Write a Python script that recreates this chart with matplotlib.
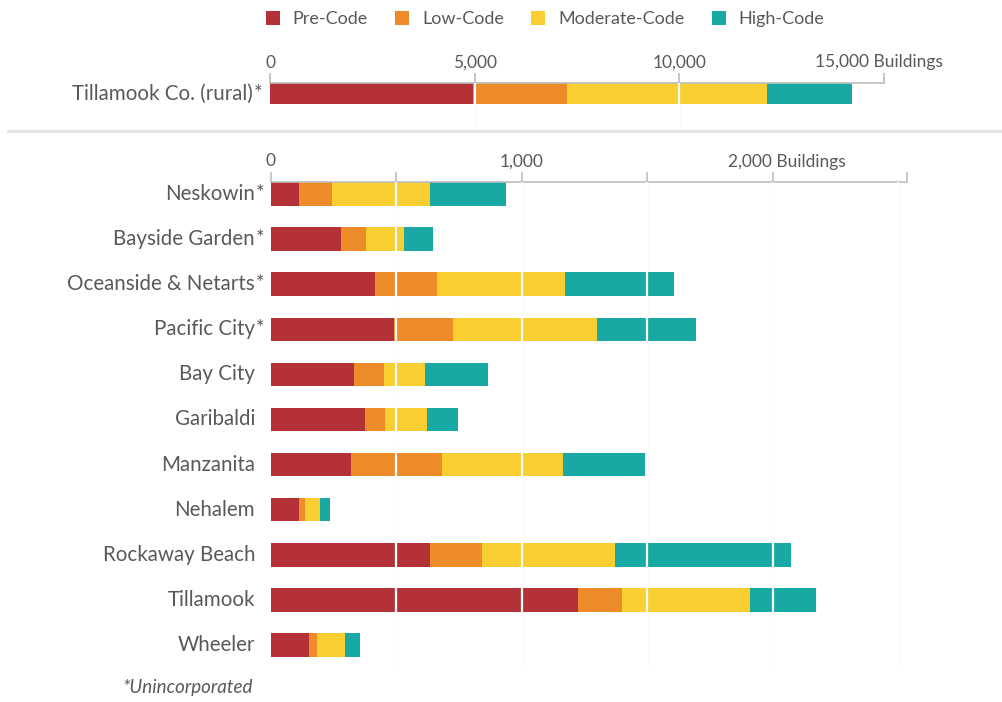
import matplotlib
matplotlib.use("Agg")
import matplotlib.pyplot as plt
from matplotlib.patches import Patch
from matplotlib.lines import Line2D
import numpy as np

plt.rcParams['font.family'] = ['Lato', 'DejaVu Sans']

# ---- data -------------------------------------------------------------
classes = ["Pre-Code", "Low-Code", "Moderate-Code", "High-Code"]
colors = ["#B43237", "#EC8B27", "#F8CE30", "#19A9A5"]

county_label = "Tillamook Co. (rural)*"
county_values = [4960, 2290, 4880, 2090]

places = ["Neskowin*", "Bayside Garden*", "Oceanside & Netarts*", "Pacific City*",
          "Bay City", "Garibaldi", "Manzanita", "Nehalem", "Rockaway Beach",
          "Tillamook", "Wheeler"]
pre_code = [110, 280, 415, 490, 330, 375, 320, 110, 635, 1225, 150]
low_code = [135, 100, 245, 235, 120, 80, 360, 25, 205, 175, 35]
moderate_code = [390, 150, 510, 575, 165, 165, 485, 60, 530, 510, 110]
high_code = [300, 115, 435, 395, 250, 125, 325, 40, 700, 260, 60]

top_ticks = [0, 5000, 10000, 15000]
top_ticklabels = ["0", "5,000", "10,000", "15,000 Buildings"]
bottom_ticks = [0, 1000, 2000]
bottom_ticklabels = ["0", "1,000", "2,000 Buildings"]
footnote = "*Unincorporated"

TEXT = "#595959"
AXIS = "#BDBDBD"
GRID = "#EFEFEF"
LABEL_SIZE = 14.8

W, H = 1003, 702
fig = plt.figure(figsize=(W / 100, H / 100), dpi=100)


def frac_box(x0, y0, x1, y1):
    """pixel box (top-left origin) -> figure fraction rect"""
    return [x0 / W, 1 - y1 / H, (x1 - x0) / W, (y1 - y0) / H]


def style_axis(ax, xmax, tick_positions, labeled, labels, label_dx):
    ax.set_xlim(0, xmax)
    for s in ["left", "right", "bottom"]:
        ax.spines[s].set_visible(False)
    ax.spines["top"].set_color(AXIS)
    ax.spines["top"].set_linewidth(1.2)
    ax.xaxis.tick_top()
    ax.set_xticks(tick_positions)
    ax.set_xticklabels([])
    ax.tick_params(axis="x", direction="out", length=7, width=1.2, color=AXIS, pad=2)
    ax.set_yticks([])
    for v, lab, dx in zip(labeled, labels, label_dx):
        ax.annotate(lab, xy=(v, 1), xycoords=("data", "axes fraction"),
                    xytext=(dx, 9), textcoords="offset points",
                    ha="center", va="bottom", fontsize=12.5, color=TEXT)


def stacked(ax, ys, series, height):
    left = np.zeros(len(ys))
    for vals, c in zip(series, colors):
        vals = np.asarray(vals, dtype=float)
        ax.barh(ys, vals, left=left, height=height, color=c, zorder=2, linewidth=0)
        left += vals


def place_label(ax, text, y, dx_pts, size):
    star = text.endswith("*")
    name = text[:-1] if star else text
    ax.annotate(name, xy=(0, y), xycoords=("axes fraction", "data"),
                xytext=(dx_pts, 0), textcoords="offset points",
                ha="right", va="center", fontsize=size, color=TEXT)
    if star:
        ax.annotate("*", xy=(0, y), xycoords=("axes fraction", "data"),
                    xytext=(dx_pts + 0.8, 0), textcoords="offset points",
                    ha="left", va="center", fontsize=size, color=TEXT)


# ---- county-wide panel -------------------------------------------------
ax1 = fig.add_axes(frac_box(270, 83, 884, 128))
ax1.set_ylim(1, 0)
stacked(ax1, [0.235], [[v] for v in county_values], 0.47)
for g in [5000, 10000]:
    ax1.axvline(g, color=GRID, lw=1, zorder=1)
    ax1.axvline(g, color="white", lw=1.6, zorder=3)
style_axis(ax1, 15000, top_ticks, top_ticks, top_ticklabels, [0, 0, 0, -4])
place_label(ax1, county_label, 0.235, -12.5, LABEL_SIZE)

# ---- separator ----------------------------------------------------------
fig.add_artist(Line2D([8 / W, 1.0], [1 - 131 / H, 1 - 131 / H],
                      color="#E3E3E3", lw=2.2, transform=fig.transFigure))

# ---- community panel ----------------------------------------------------
ax2 = fig.add_axes(frac_box(271, 182, 907, 668))
n = len(places)
ys = np.arange(n)
ax2.set_ylim(10.51, -0.266)
stacked(ax2, ys, [pre_code, low_code, moderate_code, high_code], 0.52)
for g in [500, 1000, 1500, 2000, 2500]:
    ax2.axvline(g, color=GRID, lw=1, zorder=1)
    ax2.axvline(g, color="white", lw=1.6, zorder=3)
style_axis(ax2, 2534, [0, 500, 1000, 1500, 2000, 2534],
           bottom_ticks, bottom_ticklabels, [0, 0, 10])
for y, p in zip(ys, places):
    place_label(ax2, p, y, -11.5, LABEL_SIZE)

fig.text(253 / W, 1 - 688 / H, footnote, ha="right", va="center",
         fontsize=13.5, style="italic", color=TEXT)

# ---- legend ---------------------------------------------------------------
handles = [Patch(facecolor=c, edgecolor="none") for c in colors]
fig.legend(handles=handles, labels=classes, loc="center",
           bbox_to_anchor=(545 / W, 1 - 19 / H),
           ncol=4, frameon=False, fontsize=13, handlelength=0.78, handleheight=0.78,
           handletextpad=0.72, columnspacing=1.5, labelcolor=TEXT)

fig.savefig("out.png", dpi=100)
